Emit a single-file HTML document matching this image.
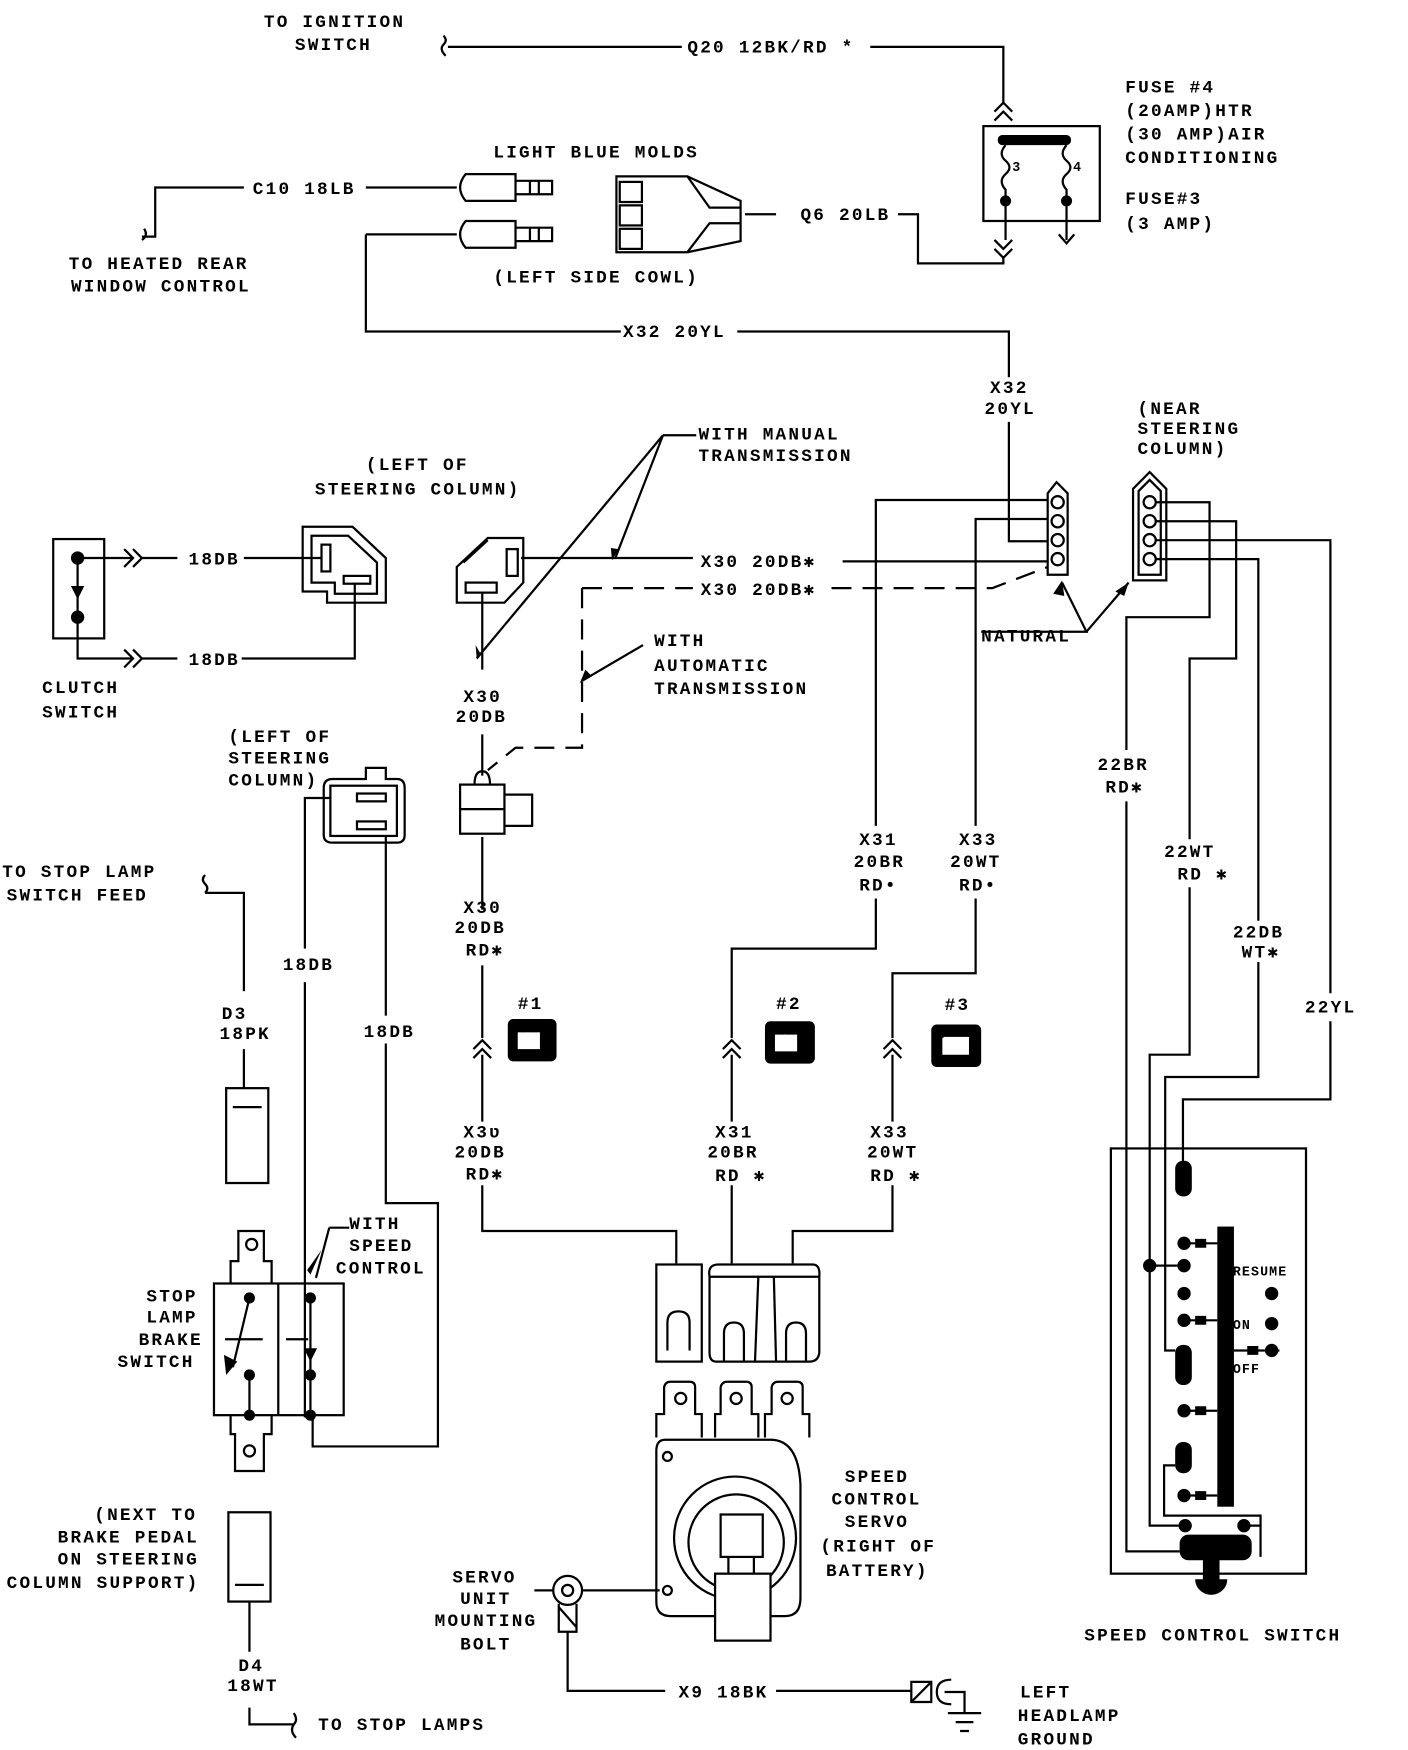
<!DOCTYPE html>
<html><head><meta charset="utf-8"><style>
html,body{margin:0;padding:0;background:#fff;}
svg{display:block}
text{font-family:"Liberation Mono",monospace;font-weight:bold;font-size:16px;letter-spacing:2px;fill:#000}
.s{font-size:12px;letter-spacing:1px}
</style></head><body>
<svg width="1408" height="1750" viewBox="0 0 1270 1568" preserveAspectRatio="none" xmlns="http://www.w3.org/2000/svg">
<g fill="none" stroke="#000" stroke-width="2">
<path d="M400,32 q4,4 0,8 q-4,4 2,10"/>
<path d="M404,42 H615"/>
<path d="M785,42 H905 V92"/>
<path d="M897,100 l8,-8 l8,8 M897,108 l8,-8 l8,8"/>
<rect x="887" y="113" width="105" height="85"/>
<path d="M907,130 q-7,8 0,14 q7,6 0,12 q-7,6 0,14 V215 M962,130 q-7,8 0,14 q7,6 0,12 q-7,6 0,14 V215"/>
<path d="M897,215 l8,8 l8,-8 M897,223 l8,8 l8,-8 M955,210 l7,8 l7,-8"/>
<path d="M672,192 H700 M810,192 H828 V236 H905 V231"/>
<path d="M130,205 q4,6 -2,10 M128,212 H140 V168 H220 M330,168 H412"/>
<path d="M330,210 H412 M330,210 V297 H560 M665,297 H910 V338 M910,378 V485 H945"/>
<path d="M420,156 H465 V180 H420 Q410,168 420,156 Z M465,162 H478 V174 H465 M478,162 h20 v12 h-20 M486,162 v12"/>
<path d="M420,198 H465 V222 H420 Q410,210 420,198 Z M465,204 H478 V216 H465 M478,204 h20 v12 h-20 M486,204 v12"/>
<path d="M556,158 H620 L668,180 V216 L620,226 H556 Z M620,158 L640,186 H668 M620,226 L640,200 H668"/>
<rect x="559" y="163" width="20" height="18"/><rect x="559" y="184" width="20" height="18"/><rect x="559" y="205" width="20" height="18"/>
<rect x="48" y="483" width="46" height="89"/>
<path d="M70,500 V553 M70,553 V590 H120 M70,500 H120 M112,492 l8,8 l-8,8 M120,492 l8,8 l-8,8 M112,582 l8,8 l-8,8 M120,582 l8,8 l-8,8 M128,500 H160 M128,590 H160 M220,500 H290 M218,590 H320 V522"/>
<path d="M273,472 H318 L348,500 V540 H295 V530 H273 Z M281,480 H314 L340,504 V532 H302 V522 H281 Z"/>
<rect x="290" y="488" width="8" height="24"/><rect x="310" y="516" width="24" height="7"/>
<path d="M412,508 L440,482 H472 V522 L455,540 H412 Z M418,504 L440,484"/>
<rect x="457" y="492" width="10" height="24"/><rect x="420" y="522" width="28" height="9"/>
<path d="M470,500 H625 M435,531 V600 M435,658 V695"/>
<path d="M598,390 L430,590 M598,390 L555,500 M598,390 H628"/>
<path d="M525,527 H625 M750,527 H895 L945,508 M525,527 V670 H465 L440,690" stroke-dasharray="18,10"/>
<path d="M580,578 L525,610"/>
<rect x="415" y="703" width="40" height="44"/><path d="M415,725 H455 M455,712 H480 V740 H455 M428,703 q0,-12 7,-12 q7,0 7,12"/>
<path d="M435,750 V815 M435,865 V930 M435,945 V1005 M435,1062 V1103 H610 V1132"/>
<path d="M427,940 l8,-8 l8,8 M427,948 l8,-8 l8,8"/>
<path d="M945,448 H790 V740 M790,805 V850 H660 V930 M660,945 V1005 M660,1062 V1132"/>
<path d="M652,940 l8,-8 l8,8 M652,948 l8,-8 l8,8"/>
<path d="M945,465 H880 V740 M880,805 V872 H805 V930 M805,945 V1005 M805,1062 V1103 H715 V1132"/>
<path d="M797,940 l8,-8 l8,8 M797,948 l8,-8 l8,8"/>
<path d="M945,503 H760"/>
<path d="M945,442 L953,432 L963,442 V515 H945 Z"/>
<circle cx="954" cy="450" r="5.5"/><circle cx="954" cy="467" r="5.5"/><circle cx="954" cy="484" r="5.5"/><circle cx="954" cy="501" r="5.5"/>
<path d="M1022,438 L1037,423 L1052,438 V520 H1022 Z M1027,440 L1037,430 L1047,440 V515 H1027 Z"/>
<circle cx="1037" cy="450" r="5.5"/><circle cx="1037" cy="467" r="5.5"/><circle cx="1037" cy="484" r="5.5"/><circle cx="1037" cy="501" r="5.5"/>
<path d="M1043,450 H1091 V553 H1016 V672 M1016,718 V1390 H1064"/>
<path d="M1043,467 H1115 V590 H1073 V752 M1073,795 V945 H1037 V1367 H1063"/>
<path d="M1043,484 H1200 V890 M1200,915 V985 H1067 V1045"/>
<path d="M1043,501 H1135 V825 M1135,862 V965 H1051 V1210 H1060"/>
<path d="M885,566 H980 L958,522 M980,566 L1018,522"/>
<rect x="1002" y="1029" width="176" height="381"/>
<path d="M1068,1114 H1098 M1068,1183 H1098 M1068,1264 H1098 M1068,1340 H1098 M1037,1134 H1068 M1113,1210 H1154 M1060,1313 H1050 V1358 H1137 V1395 M1122,1367 H1137"/>
<!-- left of steering column 18DB connector -->
<path d="M300,698 H330 V688 H348 V698 H358 Q365,698 365,706 V748 Q365,755 358,755 H300 Q292,755 292,748 V706 Q292,698 300,698 Z"/>
<rect x="298" y="704" width="60" height="45"/>
<rect x="322" y="711" width="26" height="7"/><rect x="322" y="736" width="26" height="7"/>
<path d="M185,800 q4,-4 0,-8 q-4,-4 0,-8 M185,800 H220 V888 M220,940 V975"/>
<rect x="204" y="975" width="38" height="85"/><path d="M210,992 H236"/>
<path d="M298,715 H275 V850 M275,880 V1270 M348,750 V910 M348,935 V1078 H395 V1296 H282 V1270"/>
<rect x="193" y="1150" width="117" height="118"/><path d="M251,1150 V1268"/>
<path d="M208,1150 V1130 H215 V1103 H238 V1130 H245 V1150 M208,1268 V1285 H212 V1318 H238 V1285 H245 V1268"/>
<circle cx="225" cy="1300" r="5"/><circle cx="227" cy="1115" r="5"/>
<path d="M225,1163 L210,1225 M225,1232 V1268 M203,1200 H237 M258,1200 H278 M280,1163 V1268 M297,1100 H315 M297,1100 L285,1145"/>
<rect x="206" y="1355" width="38" height="80"/><path d="M212,1420 H238 M225,1435 V1480 M225,1530 V1545 H265 M265,1535 q4,6 0,10 q-4,6 2,12"/>
<rect x="592" y="1133" width="41" height="87"/><path d="M602,1210 V1185 q0,-10 10,-10 q10,0 10,10 V1210"/>
<path d="M640,1144 Q638,1133 648,1133 H733 Q740,1133 739,1144 V1212 Q738,1220 730,1220 H646 Q640,1220 640,1212 Z M640,1144 H739 M684,1144 L681,1220 M698,1144 L700,1220 M653,1220 V1195 q0,-10 9,-10 q9,0 9,10 V1220 M709,1220 V1195 q0,-10 9,-10 q9,0 9,10 V1220"/>
<path d="M592,1288 V1267 H599 V1243 Q600,1238 605,1238 H622 Q627,1238 627,1243 V1267 H633 V1288 M645,1288 V1267 H650 V1243 Q651,1238 656,1238 H673 Q678,1238 678,1243 V1267 H684 V1288 M690,1288 V1267 H696 V1243 Q697,1238 702,1238 H719 Q724,1238 724,1243 V1267 H730 V1288"/>
<circle cx="614" cy="1253" r="5"/><circle cx="664" cy="1253" r="5"/><circle cx="710" cy="1253" r="5"/>
<path d="M600,1290 H695 Q720,1290 722,1330 V1432 Q722,1448 708,1448 H605 Q592,1448 592,1435 V1300 Q592,1290 600,1290 Z"/>
<circle cx="602" cy="1305" r="4"/><circle cx="602" cy="1425" r="4"/>
<circle cx="663" cy="1378" r="55"/><circle cx="664" cy="1382" r="43"/>
<rect x="650" y="1357" width="38" height="38" fill="#fff"/><path d="M657,1395 V1410 M680,1395 V1410"/><rect x="645" y="1410" width="50" height="60" fill="#fff"/>
<circle cx="512" cy="1425" r="13"/><circle cx="512" cy="1425" r="5"/>
<path d="M482,1425 H499 M525,1425 H595 M504,1437 V1462 H520 V1437 M504,1440 L520,1458 M512,1462 V1515 H600 M700,1515 H822"/>
<path d="M822,1507 H840 V1525 H822 Z M822,1525 L840,1507 M858,1505 Q845,1505 845,1516 Q845,1527 858,1527 M852,1516 H870 V1535 M855,1535 H885 M862,1543 H878 M866,1551 H874"/>
</g>
<g fill="#000">
<rect x="900" y="121" width="66" height="9" rx="4"/>
<circle cx="907" cy="180" r="5"/><circle cx="962" cy="180" r="5"/>
<circle cx="70" cy="500" r="6"/><circle cx="70" cy="553" r="6"/><path d="M64,525 h12 l-6,12 z"/>
<path d="M433,585 l-3,5 l-1,-12 z"/><path d="M552,502 l6,-10 l-7,-1 z"/>
<path d="M958,520 l-8,12 l10,2 z"/><path d="M1018,522 l-4,12 l-8,-4 z"/><path d="M523,612 l5,-12 l6,6 z"/>
<path d="M290,1120 l-10,22 l-3,-4 z"/>
<path d="M204,1232 l-2,-18 l12,6 z"/><path d="M274,1208 h12 l-6,12 z"/>
<circle cx="225" cy="1163" r="5"/><circle cx="225" cy="1232" r="5"/><circle cx="225" cy="1268" r="5"/>
<circle cx="280" cy="1163" r="5"/><circle cx="280" cy="1232" r="5"/><circle cx="280" cy="1268" r="5"/>
<rect x="458" y="913" width="44" height="38" rx="5"/><rect x="690" y="915" width="45" height="38" rx="5"/><rect x="840" y="918" width="45" height="38" rx="5"/>
<rect x="1098" y="1099" width="15" height="251"/>
<rect x="1060" y="1040" width="15" height="32" rx="7"/><rect x="1060" y="1205" width="15" height="36" rx="7"/><rect x="1060" y="1292" width="15" height="28" rx="7"/>
<circle cx="1068" cy="1114" r="6"/><circle cx="1068" cy="1134" r="6"/><circle cx="1068" cy="1159" r="6"/><circle cx="1068" cy="1183" r="6"/><circle cx="1068" cy="1264" r="6"/><circle cx="1068" cy="1340" r="6"/>
<circle cx="1037" cy="1134" r="6"/><circle cx="1069" cy="1367" r="6"/><circle cx="1122" cy="1367" r="6"/>
<circle cx="1147" cy="1159" r="6"/><circle cx="1147" cy="1186" r="6"/><circle cx="1147" cy="1210" r="6"/>
<path d="M1078,1110 h10 v8 h-10 z M1078,1179 h10 v8 h-10 z M1078,1260 h10 v8 h-10 z M1078,1336 h10 v8 h-10 z M1125,1206 h10 v8 h-10 z"/>
<rect x="1064" y="1375" width="65" height="23" rx="8"/><rect x="1085" y="1395" width="15" height="22"/><path d="M1078,1415 h29 a14.5,14 0 0 1 -29,0 z"/>
</g>
<g fill="#fff" stroke="#fff" stroke-width="2">
<path d="M468,925 v14 h18 v-14 M476,925 v10"/><path d="M700,927 v14 h18 v-14 M708,927 v10"/><path d="M851,930 v14 h22 v-14 h-22 M858,930 v14"/>
</g>
<text x="238" y="24">TO IGNITION</text><text x="266" y="45">SWITCH</text>
<text x="620" y="47">Q20 12BK/RD *</text>
<text x="1015" y="83">FUSE #4</text><text x="1015" y="104">(20AMP)HTR</text><text x="1015" y="125">(30 AMP)AIR</text><text x="1015" y="146">CONDITIONING</text>
<text x="1015" y="183">FUSE#3</text><text x="1015" y="205">(3 AMP)</text>
<text class="s" x="913" y="153">3</text><text class="s" x="968" y="153">4</text>
<text x="445" y="141">LIGHT BLUE MOLDS</text>
<text x="228" y="174">C10 18LB</text>
<text x="722" y="197">Q6 20LB</text>
<text x="445" y="253">(LEFT SIDE COWL)</text>
<text x="62" y="241">TO HEATED REAR</text><text x="64" y="261">WINDOW CONTROL</text>
<text x="562" y="302">X32 20YL</text>
<text x="893" y="352">X32</text><text x="888" y="371">20YL</text>
<text x="1026" y="371">(NEAR</text><text x="1026" y="389">STEERING</text><text x="1026" y="407">COLUMN)</text>
<text x="630" y="394">WITH MANUAL</text><text x="630" y="413">TRANSMISSION</text>
<text x="330" y="421">(LEFT OF</text><text x="284" y="443">STEERING COLUMN)</text>
<text x="170" y="506">18DB</text><text x="170" y="596">18DB</text>
<text x="632" y="508">X30 20DB✱</text><text x="632" y="533">X30 20DB✱</text>
<text x="885" y="575">NATURAL</text>
<text x="38" y="621">CLUTCH</text><text x="38" y="643">SWITCH</text>
<text x="590" y="579">WITH</text><text x="590" y="601">AUTOMATIC</text><text x="590" y="622">TRANSMISSION</text>
<text x="418" y="629">X30</text><text x="411" y="647">20DB</text>
<text x="206" y="665">(LEFT OF</text><text x="206" y="684">STEERING</text><text x="206" y="704">COLUMN)</text>
<text x="990" y="690">22BR</text><text x="997" y="710">RD✱</text>
<text x="1050" y="768">22WT</text><text x="1062" y="788">RD ✱</text>
<text x="1112" y="840">22DB</text><text x="1120" y="858">WT✱</text>
<text x="1177" y="907">22YL</text>
<text x="775" y="757">X31</text><text x="770" y="777">20BR</text><text x="775" y="798">RD•</text>
<text x="865" y="757">X33</text><text x="857" y="777">20WT</text><text x="865" y="798">RD•</text>
<text x="2" y="786">TO STOP LAMP</text><text x="6" y="807">SWITCH FEED</text>
<text x="418" y="818">X30</text><text x="410" y="836">20DB</text><text x="420" y="856">RD✱</text>
<text x="255" y="869">18DB</text><text x="328" y="929">18DB</text>
<text x="200" y="913">D3</text><text x="198" y="931">18PK</text>
<text x="467" y="904">#1</text><text x="700" y="904">#2</text><text x="852" y="905">#3</text>
<text x="418" y="1019">X3ʋ</text><text x="410" y="1037">20DB</text><text x="420" y="1057">RD✱</text>
<text x="645" y="1019">X31</text><text x="638" y="1037">20BR</text><text x="645" y="1058">RD ✱</text>
<text x="785" y="1019">X33</text><text x="782" y="1037">20WT</text><text x="785" y="1058">RD ✱</text>
<text x="315" y="1101">WITH</text><text x="315" y="1121">SPEED</text><text x="303" y="1141">CONTROL</text>
<text class="s" x="1112" y="1143">RESUME</text><text class="s" x="1112" y="1191">ON</text><text class="s" x="1112" y="1230">OFF</text>
<text x="132" y="1166">STOP</text><text x="132" y="1185">LAMP</text><text x="125" y="1205">BRAKE</text><text x="106" y="1225">SWITCH</text>
<text x="762" y="1328">SPEED</text><text x="750" y="1348">CONTROL</text><text x="762" y="1368">SERVO</text><text x="740" y="1390">(RIGHT OF</text><text x="745" y="1412">BATTERY)</text>
<text x="85" y="1362">(NEXT TO</text><text x="52" y="1382">BRAKE PEDAL</text><text x="52" y="1402">ON STEERING</text><text x="6" y="1423">COLUMN SUPPORT)</text>
<text x="408" y="1418">SERVO</text><text x="415" y="1437">UNIT</text><text x="392" y="1457">MOUNTING</text><text x="415" y="1478">BOLT</text>
<text x="978" y="1470">SPEED CONTROL SWITCH</text>
<text x="215" y="1497">D4</text><text x="205" y="1515">18WT</text>
<text x="612" y="1521">X9 18BK</text>
<text x="920" y="1521">LEFT</text><text x="918" y="1542">HEADLAMP</text><text x="918" y="1563">GROUND</text>
<text x="287" y="1550">TO STOP LAMPS</text>
</svg>
</body></html>
